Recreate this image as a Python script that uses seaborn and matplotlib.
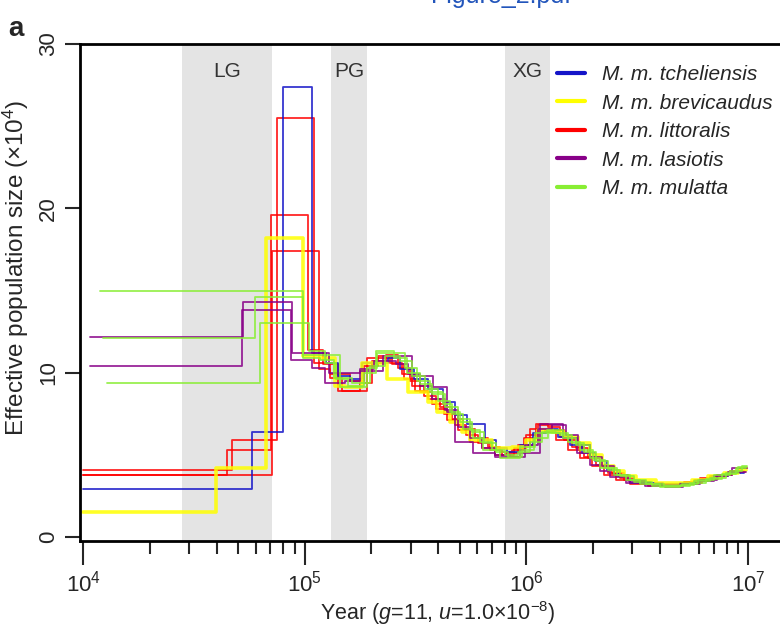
import matplotlib
matplotlib.use("Agg")
import pandas as pd
import matplotlib.pyplot as plt
import matplotlib.transforms as mtransforms
import seaborn as sns
from matplotlib.lines import Line2D
from matplotlib.ticker import FixedLocator, LogFormatterMathtext, NullFormatter

# PSMC step curves: year (g=11, u=1e-8) and effective size (x10^4)
tcheliensis_1_year = [1.0e4, 5.78e4, 7.98e4, 1.079e5, 1.248e5, 1.413e5, 1.601e5, 1.814e5, 2.376e5, 2.691e5,
                      3.112e5, 3.599e5, 4.205e5, 4.764e5, 5.396e5, 6.506e5, 7.292e5, 8.175e5, 9.357e5, 1.071e6,
                      1.226e6, 1.389e6, 1.573e6, 1.782e6, 2.040e6, 2.310e6, 2.590e6, 2.934e6, 4.132e6, 4.931e6,
                      5.762e6, 6.874e6, 8.118e6, 9.585e6]
tcheliensis_1_ne = [2.9, 6.4, 27.4, 11.2, 10.6, 9.8, 9.6, 10.6, 10.9, 10.2,
                    9.6, 9.0, 8.2, 7.4, 6.9, 5.9, 5.4, 5.2, 5.6, 6.3,
                    6.6, 6.1, 5.6, 5.1, 4.6, 4.1, 3.7, 3.3, 3.25, 3.3,
                    3.5, 3.7, 3.9, 3.9]

brevicaudus_1_year = [1.0e4, 3.98e4, 6.69e4, 9.82e4, 1.172e5, 1.370e5, 1.520e5, 1.814e5, 2.351e5, 2.924e5,
                      3.599e5, 3.952e5, 4.522e5, 5.123e5, 5.566e5, 6.996e5, 8.612e5, 9.959e5, 1.128e6, 1.305e6,
                      1.494e6, 1.709e6, 1.937e6, 2.193e6, 2.485e6, 2.756e6, 3.122e6, 3.843e6, 4.729e6, 5.585e6,
                      6.595e6, 7.788e6, 9.006e6, 9.786e6]
brevicaudus_1_ne = [1.55, 4.2, 18.2, 11.0, 10.9, 9.2, 9.1, 10.6, 9.6, 8.8,
                    8.2, 7.6, 7.0, 6.4, 5.9, 5.4, 5.5, 5.9, 6.5, 6.4,
                    6.1, 5.7, 5.0, 4.3, 4.0, 3.7, 3.45, 3.3, 3.3, 3.5,
                    3.7, 3.9, 4.1, 4.1]

littoralis_1_year = [1.0e4, 4.70e4, 7.50e4, 1.101e5, 1.301e5, 1.601e5, 1.852e5, 2.141e5, 2.477e5, 2.805e5,
                     3.144e5, 3.599e5, 4.076e5, 4.618e5, 5.176e5, 5.864e5, 6.711e5, 7.601e5, 8.612e5, 9.754e5,
                     1.105e6, 1.251e6, 1.418e6, 1.606e6, 1.820e6, 2.061e6, 2.334e6, 2.644e6, 3.058e6, 3.610e6,
                     4.352e6, 5.248e6, 6.196e6, 7.316e6, 8.461e6, 9.685e6]
littoralis_1_ne = [4.1, 5.9, 25.5, 10.6, 9.9, 9.5, 10.4, 11.0, 10.5, 9.6,
                   8.9, 8.4, 7.9, 7.2, 6.6, 6.0, 5.5, 5.2, 5.3, 6.0,
                   6.9, 6.7, 6.1, 5.5, 4.9, 4.4, 3.9, 3.6, 3.35, 3.2,
                   3.15, 3.3, 3.55, 3.75, 3.95, 3.95]

littoralis_2_year = [1.0e4, 4.46e4, 7.05e4, 1.035e5, 1.209e5, 1.413e5, 1.910e5, 2.426e5, 2.748e5, 3.048e5,
                     3.452e5, 3.911e5, 4.384e5, 4.915e5, 5.566e5, 6.306e5, 7.217e5, 8.091e5, 9.165e5, 1.038e6,
                     1.213e6, 1.360e6, 1.541e6, 1.745e6, 1.977e6, 2.239e6, 2.537e6, 2.934e6, 3.536e6, 4.263e6,
                     5.140e6, 6.069e6, 7.166e6, 8.288e6, 9.585e6]
littoralis_2_ne = [3.8, 5.3, 19.6, 11.4, 10.5, 8.9, 10.9, 10.6, 9.9, 9.2,
                   8.6, 7.8, 7.1, 6.5, 5.8, 5.4, 5.0, 5.1, 5.6, 6.6,
                   6.4, 5.9, 5.3, 4.8, 4.3, 3.8, 3.5, 3.2, 3.1, 3.2,
                   3.35, 3.6, 3.8, 4.0, 4.0]

littoralis_3_year = [1.0e4, 7.12e4, 1.160e5, 1.301e5, 1.473e5, 1.776e5, 2.012e5, 2.327e5, 2.636e5, 2.985e5,
                     3.312e5, 3.752e5, 4.249e5, 4.764e5, 5.340e5, 6.049e5, 6.852e5, 7.762e5, 8.792e5, 9.959e5,
                     1.128e6, 1.305e6, 1.478e6, 1.674e6, 1.897e6, 2.148e6, 2.433e6, 2.756e6, 3.255e6, 3.924e6,
                     4.729e6, 5.702e6, 6.733e6, 7.951e6, 9.195e6, 9.888e6]
littoralis_3_ne = [3.8, 17.4, 10.2, 9.7, 8.9, 9.4, 10.7, 11.1, 10.3, 9.5,
                   8.8, 8.1, 7.5, 6.8, 6.2, 5.7, 5.3, 5.0, 5.4, 6.2,
                   6.8, 6.5, 5.9, 5.4, 4.8, 4.3, 3.9, 3.5, 3.25, 3.15,
                   3.25, 3.45, 3.7, 3.9, 4.2, 4.2]

lasiotis_1_year = [1.075e4, 5.27e4, 8.76e4, 1.287e5, 1.776e5, 2.255e5, 3.048e5, 3.791e5, 4.384e5, 4.764e5,
                   5.743e5, 7.217e5, 9.357e5, 1.152e6, 1.463e6, 1.691e6, 1.937e6, 2.148e6, 2.383e6, 2.814e6,
                   3.428e6, 4.219e6, 5.087e6, 6.069e6, 7.241e6, 8.461e6, 9.888e6]
lasiotis_1_ne = [12.2, 14.3, 11.2, 10.0, 10.1, 11.0, 9.8, 9.1, 7.6, 5.8,
                 5.1, 4.9, 5.1, 6.9, 6.0, 5.1, 4.4, 4.0, 3.65, 3.3,
                 3.1, 3.05, 3.2, 3.5, 3.8, 4.2, 4.2]

lasiotis_2_year = [1.075e4, 5.22e4, 8.68e4, 1.079e5, 1.235e5, 1.520e5, 1.776e5, 2.054e5, 2.581e5, 2.924e5,
                   3.312e5, 3.752e5, 4.293e5, 4.915e5, 5.566e5, 6.306e5, 7.217e5, 8.434e5, 9.856e5, 1.128e6,
                   1.305e6, 1.509e6, 1.709e6, 1.937e6, 2.193e6, 2.485e6, 2.873e6, 3.428e6, 4.090e6, 4.931e6,
                   5.944e6, 7.018e6, 8.118e6, 9.786e6]
lasiotis_2_ne = [10.4, 13.8, 10.8, 10.3, 9.4, 9.5, 10.2, 10.7, 10.5, 9.9,
                 9.2, 8.4, 7.7, 6.7, 6.0, 5.4, 5.0, 4.9, 5.6, 6.6,
                 6.8, 6.2, 5.6, 4.9, 4.3, 3.8, 3.4, 3.2, 3.1, 3.2,
                 3.4, 3.7, 3.95, 3.95]

mulatta_1_year = [1.193e4, 9.82e4, 1.443e5, 1.910e5, 2.119e5, 2.834e5, 3.210e5, 3.675e5, 4.205e5, 4.618e5,
                  5.176e5, 5.743e5, 6.372e5, 7.601e5, 9.357e5, 1.094e6, 1.239e6, 1.463e6, 1.674e6, 1.937e6,
                  2.148e6, 2.485e6, 2.814e6, 3.255e6, 4.005e6, 4.931e6, 5.702e6, 6.733e6, 7.951e6, 9.006e6,
                  9.888e6]
mulatta_1_ne = [15.0, 11.1, 9.1, 10.3, 11.2, 10.3, 9.5, 8.8, 8.1, 7.5,
                6.6, 6.0, 5.3, 4.8, 5.5, 6.3, 6.5, 6.0, 5.6, 4.8,
                4.2, 3.8, 3.5, 3.2, 3.05, 3.15, 3.4, 3.6, 3.9, 4.25,
                4.25]

mulatta_2_year = [1.231e4, 5.97e4, 9.82e4, 1.172e5, 1.356e5, 1.635e5, 1.970e5, 2.303e5, 2.691e5, 3.048e5,
                  3.488e5, 3.993e5, 4.522e5, 5.018e5, 5.684e5, 6.438e5, 7.292e5, 8.261e5, 9.554e5, 1.082e6,
                  1.251e6, 1.418e6, 1.606e6, 1.820e6, 2.061e6, 2.334e6, 2.644e6, 3.058e6, 3.687e6, 4.538e6,
                  5.470e6, 6.459e6, 7.627e6, 8.822e6, 9.786e6]
mulatta_2_ne = [12.1, 14.6, 10.9, 10.8, 9.7, 9.4, 10.4, 11.0, 10.7, 9.8,
                9.0, 8.3, 7.6, 7.0, 6.4, 5.7, 5.2, 4.9, 5.3, 6.0,
                6.3, 6.2, 5.7, 5.2, 4.6, 4.1, 3.7, 3.35, 3.1, 3.1,
                3.3, 3.55, 3.85, 4.2, 4.2]

mulatta_3_year = [1.283e4, 6.29e4, 1.046e5, 1.235e5, 1.384e5, 1.568e5, 1.852e5, 2.097e5, 2.529e5, 2.894e5,
                  3.312e5, 3.752e5, 4.293e5, 4.915e5, 5.566e5, 6.176e5, 6.996e5, 8.008e5, 9.165e5, 1.038e6,
                  1.176e6, 1.360e6, 1.541e6, 1.745e6, 1.998e6, 2.263e6, 2.563e6, 2.934e6, 3.463e6, 4.175e6,
                  5.034e6, 5.944e6, 7.018e6, 8.288e6, 9.387e6, 9.888e6]
mulatta_3_ne = [9.4, 13.0, 11.3, 10.6, 9.6, 9.2, 10.0, 11.3, 10.9, 10.0,
                9.3, 8.7, 7.9, 7.2, 6.5, 5.8, 5.3, 5.0, 5.2, 5.8,
                6.4, 6.3, 5.8, 5.3, 4.7, 4.2, 3.8, 3.45, 3.2, 3.1,
                3.25, 3.5, 3.75, 4.0, 4.3, 4.3]

subspecies = ["M. m. tcheliensis", "M. m. brevicaudus", "M. m. littoralis", "M. m. lasiotis", "M. m. mulatta"]
sub_colors = ["#1414c8", "#ffff00", "#ff0000", "#880088", "#88ee33"]

# glaciation bands (years)
band_names = ["LG", "PG", "XG"]
band_start = [2.8e4, 1.32e5, 8.0e5]
band_end = [7.1e4, 1.91e5, 1.28e6]

samples = [
    ("littoralis_1", 2, littoralis_1_year, littoralis_1_ne),
    ("littoralis_2", 2, littoralis_2_year, littoralis_2_ne),
    ("littoralis_3", 2, littoralis_3_year, littoralis_3_ne),
    ("tcheliensis_1", 0, tcheliensis_1_year, tcheliensis_1_ne),
    ("brevicaudus_1", 1, brevicaudus_1_year, brevicaudus_1_ne),
    ("lasiotis_1", 3, lasiotis_1_year, lasiotis_1_ne),
    ("lasiotis_2", 3, lasiotis_2_year, lasiotis_2_ne),
    ("mulatta_1", 4, mulatta_1_year, mulatta_1_ne),
    ("mulatta_2", 4, mulatta_2_year, mulatta_2_ne),
    ("mulatta_3", 4, mulatta_3_year, mulatta_3_ne),
]

rows = []
for name, k, yrs, nes in samples:
    for yr, ne in zip(yrs, nes):
        rows.append({"sample": name, "subspecies": subspecies[k], "year": yr, "ne": ne})
data = pd.DataFrame(rows)

sns.set_style("white")
plt.rcParams["font.family"] = ["Liberation Sans", "DejaVu Sans"]
plt.rcParams["mathtext.fontset"] = "custom"
plt.rcParams["mathtext.rm"] = "Liberation Sans"
plt.rcParams["mathtext.it"] = "Liberation Sans:italic"

fig = plt.figure(figsize=(7.8, 6.31), dpi=100)
ax = fig.add_axes([0.1026, 0.1426, 0.9174, 0.7876])
ax.set_xscale("log")

for lo, hi in zip(band_start, band_end):
    ax.axvspan(lo, hi, color="#e4e4e4", lw=0, zorder=0)

for name, group in data.groupby("sample", sort=False):
    sub = group["subspecies"].iloc[0]
    color = sub_colors[subspecies.index(sub)]
    lw = 2.6 if sub == "M. m. brevicaudus" else 1.3
    sns.lineplot(x=group["year"].values, y=group["ne"].values, ax=ax, color=color,
                 lw=lw, alpha=0.85, drawstyle="steps-post", estimator=None, sort=False)

blend = mtransforms.blended_transform_factory(ax.transData, ax.transAxes)
for label, lo, hi in zip(band_names, band_start, band_end):
    ax.text((lo * hi) ** 0.5, 0.944, label, transform=blend, ha="center", va="center",
            fontsize=15, color="#333333")

ax.set_xlim(9690, 1.638e7)
ax.set_ylim(-0.243, 30)

ax.xaxis.set_major_locator(FixedLocator([1e4, 1e5, 1e6, 1e7]))
ax.xaxis.set_major_formatter(LogFormatterMathtext())
minors = [m * 10 ** e for e in (4, 5, 6) for m in range(2, 10)]
ax.xaxis.set_minor_locator(FixedLocator(minors))
ax.xaxis.set_minor_formatter(NullFormatter())
ax.set_yticks([0, 10, 20, 30])

ax.tick_params(axis="x", which="major", direction="out", length=17, width=1.5,
               labelsize=16, pad=4, bottom=True)
ax.tick_params(axis="x", which="minor", direction="out", length=9, width=1.5, bottom=True)
ax.tick_params(axis="y", which="major", direction="out", length=11, width=1.5,
               labelsize=16, pad=4, left=True, labelrotation=90)
for lab in ax.get_yticklabels():
    lab.set_va("center")

for side in ["top", "left", "bottom"]:
    ax.spines[side].set_linewidth(2)
    ax.spines[side].set_color("black")
ax.spines["right"].set_visible(False)

ax.set_xlabel(r"Year ($g$=11, $u$=1.0×10$^{-8}$)", fontsize=15.5, labelpad=2)
ax.set_ylabel(r"Effective population size (×10$^{4}$)", fontsize=17.5)
ax.yaxis.set_label_coords(-0.0685, 0.549)

handles = [Line2D([0], [0], color=c, lw=3) for c in sub_colors]
ax.legend(handles, subspecies, loc="upper left", bbox_to_anchor=(0.7141, 0.897),
          bbox_transform=fig.transFigure, frameon=False, prop={"style": "italic", "size": 15},
          handlelength=1.35, handletextpad=0.82, labelspacing=0.46, borderpad=0, borderaxespad=0)

fig.text(8 / 780, 1 - 36 / 631, "a", fontsize=20, fontweight="bold", ha="left", va="baseline")
fig.text(431 / 780, 1 - 3 / 631, "Figure_2.pdf", fontsize=18, color="#2255bb", ha="left", va="baseline")

fig.savefig("out.png", dpi=100)
